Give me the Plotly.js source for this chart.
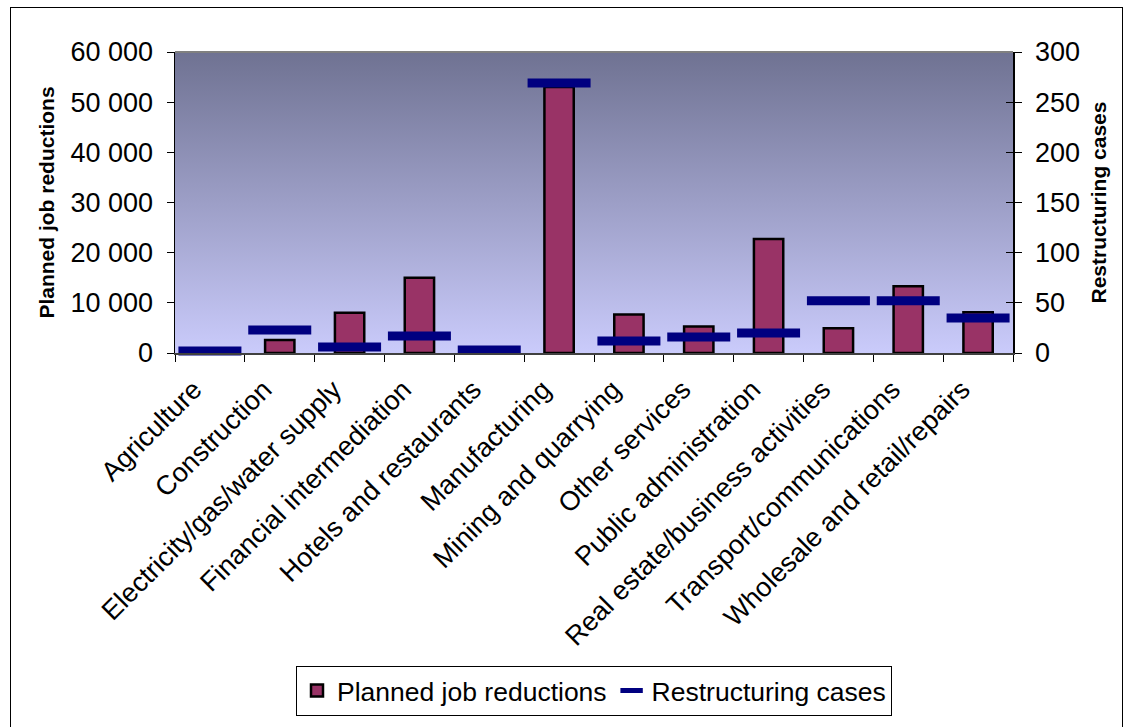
<!DOCTYPE html>
<html>
<head>
<meta charset="utf-8">
<script src="https://cdn.plot.ly/plotly-3.0.1.min.js"></script>
<style>
  html, body { margin: 0; padding: 0; background: #fff; }
  #wrap { position: relative; width: 1129px; height: 727px; overflow: hidden; }
  #frame { position: absolute; left: 10px; top: 7px; width: 1111px; height: 740px;
           border: 1px solid #000; pointer-events: none; }
  #chart { position: absolute; left: 0; top: 0; width: 1129px; height: 727px; }
</style>
</head>
<body>
<div id="wrap">
  <div id="chart"></div>
  <div id="frame"></div>
</div>
<script>
// Sectors
const sectors = [
  "Agriculture",
  "Construction",
  "Electricity/gas/water supply",
  "Financial intermediation",
  "Hotels and restaurants",
  "Manufacturing",
  "Mining and quarrying",
  "Other services",
  "Public administration",
  "Real estate/business activities",
  "Transport/communications",
  "Wholesale and retail/repairs"
];

// Planned job reductions per sector (left axis)
const plannedJobReductions = [0, 2600, 8000, 15000, 0, 53000, 7650, 5270, 22700, 4930, 13300, 8100];

// Number of restructuring cases per sector (right axis)
const restructuringCases = [2, 23, 6, 17, 3, 269, 12, 16, 20, 52, 52, 35];

const FONT = "Liberation Sans, Arial, sans-serif";
const TICK_FONT = { family: FONT, size: 27, color: "#000" };
const TITLE_FONT = { family: FONT, size: 21, color: "#000", weight: "bold" };

// vertical slate-to-lavender wash behind the plot area
const gradSvg =
  "<svg xmlns='http://www.w3.org/2000/svg' width='10' height='100' preserveAspectRatio='none'>" +
  "<defs><linearGradient id='g' x1='0' y1='0' x2='0' y2='1'>" +
  "<stop offset='0' stop-color='#6f7292'/>" +
  "<stop offset='1' stop-color='#cacbfb'/>" +
  "</linearGradient></defs>" +
  "<rect width='10' height='100' fill='url(#g)'/></svg>";
const gradSrc = "data:image/svg+xml;charset=utf-8," + encodeURIComponent(gradSvg);

const traces = [
  {
    type: "bar",
    name: "Planned job reductions",
    x: sectors,
    y: plannedJobReductions,
    yaxis: "y",
    marker: { color: "#993366", line: { color: "#000000", width: 2.5 } },
    hoverinfo: "x+y"
  },
  {
    type: "scatter",
    mode: "markers",
    name: "Restructuring cases",
    x: sectors,
    y: restructuringCases,
    yaxis: "y2",
    cliponaxis: false,
    marker: { symbol: "line-ew", size: 45, color: "#000080", line: { color: "#000080", width: 9 } },
    hoverinfo: "x+y"
  },
  // carries the inner half of the right axis' crossing tick marks
  {
    type: "scatter",
    mode: "markers",
    x: sectors,
    y: restructuringCases,
    yaxis: "y3",
    showlegend: false,
    hoverinfo: "skip",
    marker: { opacity: 0 }
  }
];

const layout = {
  width: 1129,
  height: 727,
  margin: { l: 175, r: 116, t: 52, b: 374 },
  paper_bgcolor: "rgba(0,0,0,0)",
  plot_bgcolor: "rgba(0,0,0,0)",
  separators: ". ",
  font: { family: FONT, size: 27, color: "#000" },
  bargap: 0.58,
  showlegend: true,
  legend: {
    orientation: "h",
    x: 0.5, xanchor: "center",
    y: -1.205, yanchor: "bottom",
    bgcolor: "#fff",
    bordercolor: "#000",
    borderwidth: 1,
    font: { family: FONT, size: 26.5, color: "#000" },
    itemclick: false
  },
  xaxis: {
    type: "category",
    automargin: false,
    range: [-0.5, sectors.length - 0.5],
    tickangle: -45,
    ticks: "outside",
    tickson: "boundaries",
    ticklen: 7,
    tickcolor: "#000",
    showline: true,
    linecolor: "#404040",
    linewidth: 2,
    showgrid: false,
    zeroline: false,
    ticklabelshift: -16,
    ticklabelstandoff: 8,
    tickfont: TICK_FONT
  },
  yaxis: {
    automargin: false,
    range: [0, 60000],
    dtick: 10000,
    tickformat: ",d",
    ticks: "outside",
    ticklen: 7,
    tickcolor: "#000",
    showline: true,
    linecolor: "#000",
    linewidth: 1.5,
    showgrid: false,
    zeroline: false,
    ticklabelstandoff: 8,
    tickfont: TICK_FONT,
    title: { text: "Planned job reductions", standoff: 10, font: TITLE_FONT }
  },
  yaxis2: {
    automargin: false,
    overlaying: "y",
    side: "right",
    range: [0, 300],
    dtick: 50,
    ticks: "outside",
    ticklen: 7,
    tickcolor: "#000",
    showline: true,
    linecolor: "#000",
    linewidth: 1.5,
    showgrid: false,
    zeroline: false,
    ticklabelstandoff: 8,
    tickfont: TICK_FONT,
    title: { text: "Restructuring cases", standoff: 12, font: TITLE_FONT }
  },
  yaxis3: {
    automargin: false,
    overlaying: "y",
    side: "right",
    range: [0, 300],
    dtick: 50,
    ticks: "inside",
    ticklen: 7,
    tickcolor: "#000",
    showline: false,
    showgrid: false,
    zeroline: false,
    showticklabels: false
  },
  images: [{
    source: gradSrc,
    xref: "paper", yref: "paper",
    x: 0, y: 1, sizex: 1, sizey: 1,
    xanchor: "left", yanchor: "top",
    sizing: "stretch",
    layer: "below"
  }],
  shapes: [{
    type: "line", xref: "paper", yref: "paper",
    x0: 0, x1: 1, y0: 1, y1: 1,
    line: { color: "#808080", width: 2 }
  }]
};

Plotly.newPlot("chart", traces, layout, { displayModeBar: false, staticPlot: true });
</script>
</body>
</html>
